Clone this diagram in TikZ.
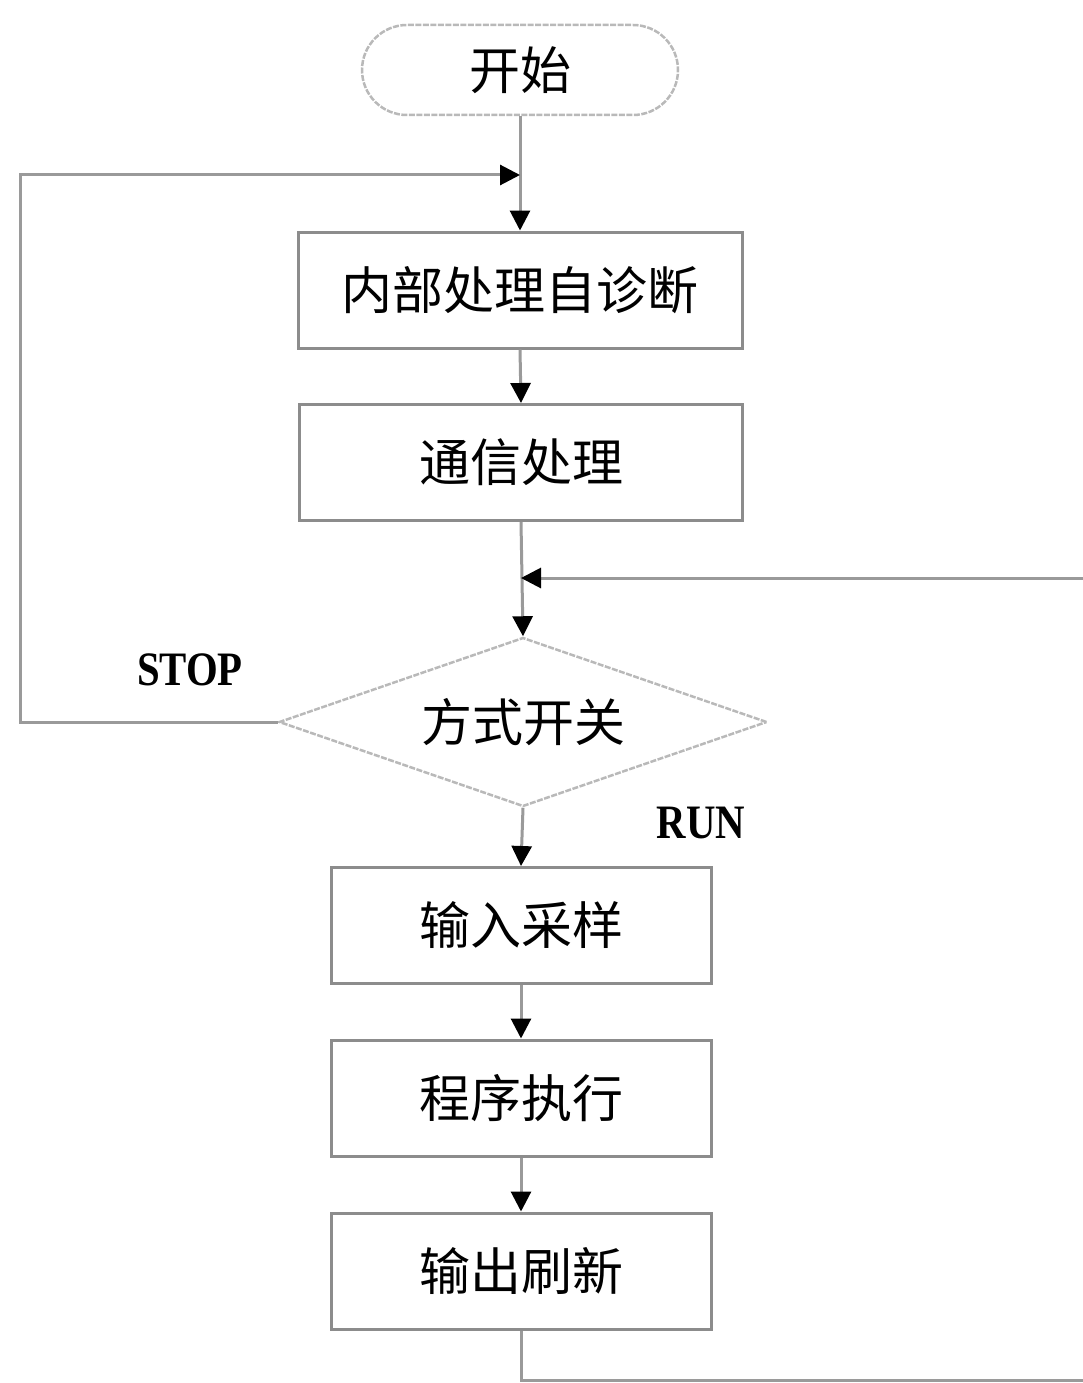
\documentclass[tikz,border=0pt]{standalone}
\usepackage{fontspec}
\newfontfamily\cjk{Noto Sans CJK SC}
\newfontfamily\lat{Liberation Serif}
\usetikzlibrary{arrows.meta,shapes.geometric,shapes.misc}
\definecolor{linegray}{HTML}{9A9A9A}
\definecolor{boxgray}{HTML}{8C8C8C}
\begin{document}
\begin{tikzpicture}[x=1pt,y=-1pt,
  flow/.style={draw=linegray,line width=3pt},
  tip/.style={-{Triangle[length=20pt,width=20pt,fill=black,color=black]}},
  procbox/.style={draw=boxgray,line width=3pt,minimum width=#1,minimum height=116pt,inner sep=0pt,font=\cjk\fontsize{51}{56}\selectfont},
  startbox/.style={rounded rectangle,draw=gray!55,line width=2.5pt,dash pattern=on 6pt off 1.5pt,minimum width=316pt,minimum height=90pt,inner sep=0pt,font=\cjk\fontsize{51}{56}\selectfont},
  decbox/.style={diamond,draw=gray!55,line width=2.5pt,dash pattern=on 6pt off 1.5pt,aspect=2.89,minimum width=488pt,minimum height=169pt,inner sep=0pt,font=\cjk\fontsize{51}{56}\selectfont},
  lbl/.style={font=\lat\bfseries\fontsize{48}{52}\selectfont}]
\useasboundingbox (0,0) rectangle (1083,1383);
\node[startbox] (start) at (520,70) {开始};
\node[procbox=444pt] (b1) at (520,290) {内部处理自诊断};
\node[procbox=443pt] (b2) at (521,462.5) {通信处理};
\node[decbox] (dec) at (523,722) {方式开关};
\node[procbox=380pt] (b3) at (521,925.5) {输入采样};
\node[procbox=380pt] (b4) at (521,1098) {程序执行};
\node[procbox=380pt] (b5) at (521,1271) {输出刷新};
\node[lbl] (stop) at (190,670) {\scalebox{0.85}[1]{STOP}};
\node[lbl] (run) at (701,823) {\scalebox{0.85}[1]{RUN}};
\coordinate (j1) at (520,175);
\coordinate (j2) at (521,578);
\coordinate (l1) at (20,722);
\coordinate (l2) at (20,175);
\coordinate (r1) at (521,1380);
\coordinate (r2) at (1086,1380);
\coordinate (r3) at (1086,578);
\draw[flow,tip] (start.south) -- (b1.north);
\draw[flow,tip] (b1.south) -- (b2.north);
\draw[flow,tip] (b2.south) -- (dec.north);
\draw[flow,tip] (dec.south) -- (b3.north);
\draw[flow,tip] (b3.south) -- (b4.north);
\draw[flow,tip] (b4.south) -- (b5.north);
\draw[flow,tip] (dec.west) -- (l1) -- (l2) -- (j1);
\draw[flow,tip] (b5.south) -- (r1) -- (r2) -- (r3) -- (j2);
\end{tikzpicture}
\end{document}
